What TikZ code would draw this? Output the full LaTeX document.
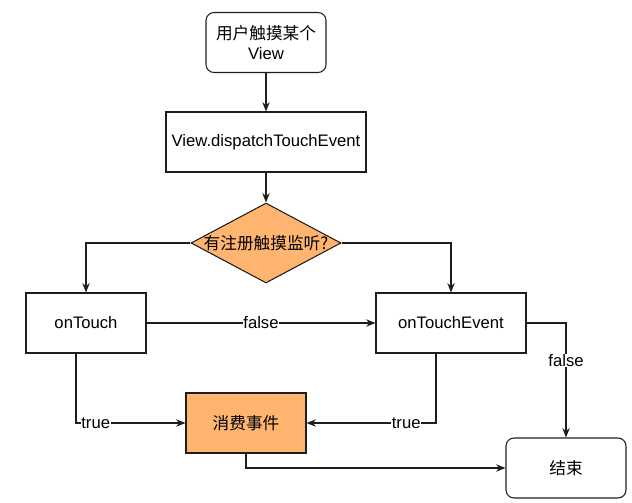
\documentclass[tikz,border=0pt]{standalone}
\usepackage{fontspec}
\setmainfont{Liberation Sans}
\newfontfamily\cjk{Noto Sans CJK SC}
\usetikzlibrary{arrows.meta,positioning,shapes.geometric}
\definecolor{fcOrange}{HTML}{FFB570}
\definecolor{fcLine}  {HTML}{1E1E1E}

\begin{document}
\begin{tikzpicture}[x=0.75pt,y=-0.75pt,font=\fontsize{12.5pt}{15.5pt}\selectfont,
    flowbox/.style={draw=fcLine,fill=white,line width=0.8pt,align=center,
                    minimum width=90pt,minimum height=45pt,inner sep=2pt},
    termbox/.style={flowbox,rounded corners=6pt},
    hotbox/.style={flowbox,fill=fcOrange},
    decision/.style={draw=fcLine,fill=fcOrange,line width=0.8pt,shape=diamond,
                     inner sep=0pt,minimum width=112.5pt,minimum height=60pt},
    flow/.style={draw=fcLine,line width=0.8pt,-{Stealth[length=7pt,width=5.5pt]}},
    tag/.style={fill=white,inner sep=0.5pt}]
  \useasboundingbox (0,0) rectangle (632,503);

  \node[termbox] (touchView) at (266,42.5) {{\cjk 用户触摸某个}\\View};
  \node[flowbox,minimum width=150pt] (dispatch) at (266,142) {View.dispatchTouchEvent};
  \node[decision] (hasListener) at (266,243) {\makebox[0pt]{\cjk 有注册触摸监听?}};
  \node[flowbox] (onTouch) at (86,323) {onTouch};
  \node[flowbox,minimum width=112.5pt] (onTouchEvent) at (451,323) {onTouchEvent};
  \node[hotbox] (consume) at (246,423) {\cjk 消费事件};
  \node[termbox] (finish) at (566,468) {\cjk 结束};

  \draw[flow] (touchView) -- (dispatch);
  \draw[flow] (dispatch) -- (hasListener);
  \draw[flow] (hasListener.west) -| (onTouch.north);
  \draw[flow] (hasListener.east) -| (onTouchEvent.north);
  \draw[flow] (onTouch) -- node[tag] {false} (onTouchEvent);
  \draw[flow] ([xshift=-7.5pt]onTouch.south) |- node[tag,pos=0.59] {true} (consume.west);
  \draw[flow] ([xshift=-11.25pt]onTouchEvent.south) |- node[tag,pos=0.615] {true} (consume.east);
  \draw[flow] (onTouchEvent.east) -| node[tag,pos=0.663] {false} (finish.north);
  \draw[flow] (consume.south) |- (finish.west);
\end{tikzpicture}
\end{document}
